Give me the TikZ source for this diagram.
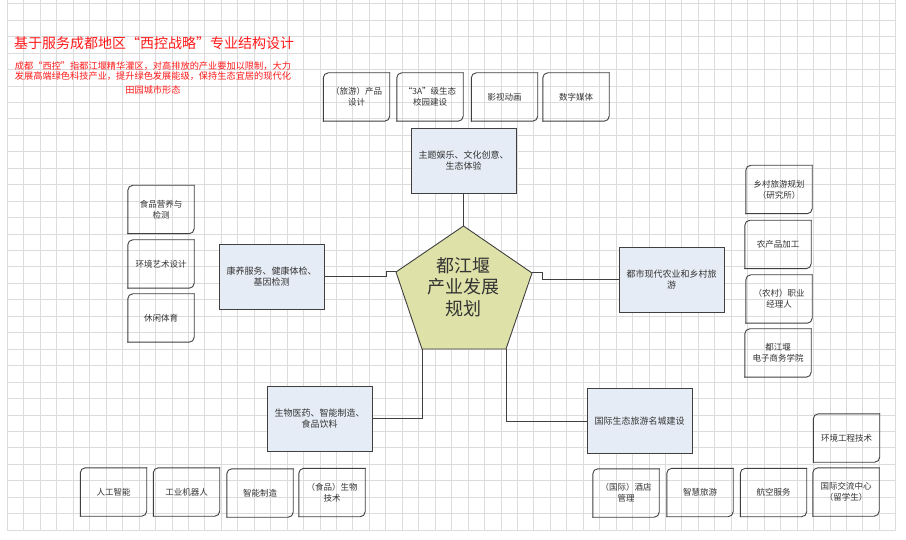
\documentclass[tikz,border=0pt]{standalone}
\usepackage{fontspec}
\setmainfont{Noto Sans CJK SC}
\usetikzlibrary{positioning}

\definecolor{gridgray}{HTML}{DCDCDC}
\definecolor{titlered}{HTML}{FF1A1A}
\definecolor{linegray}{HTML}{404040}
\definecolor{themefill}{HTML}{E6ECF5}
\definecolor{hubfill}{HTML}{DEE2A8}
\definecolor{textgray}{HTML}{333333}

\tikzset{
  theme/.style={draw=linegray, line width=0.9pt, fill=themefill, minimum width=105pt, minimum height=65pt,
    align=center, font=\fontsize{9}{10.5}\selectfont, text=textgray, inner sep=1pt},
  card/.style={minimum width=66pt, minimum height=48pt, align=center,
    font=\fontsize{8.5}{11.3}\selectfont, text=textgray, inner sep=1pt},
  cardedge/.style={draw=linegray, line width=0.9pt, rounded corners=5pt, line cap=rect},
  hubshape/.style={draw=linegray, line width=0.9pt, fill=hubfill, line join=miter},
  link/.style={draw=linegray, line width=1pt},
}

\begin{document}
\begin{tikzpicture}[x=1pt,y=-1pt]
    \useasboundingbox[fill=white] (0,0) rectangle (906,540);

    % Draw grid
    \foreach \i in {0,...,54} {
      \draw[gridgray, line width=0.6pt] ({7.3+16.45*\i},0) -- ({7.3+16.45*\i},530);
    }
    \foreach \j in {0,...,32} {
      \draw[gridgray, line width=0.6pt] (7.3,{3.6+16.45*\j}) -- (895.6,{3.6+16.45*\j});
    }

    % Title and note
    \node[text=titlered, font=\fontsize{14}{16}\selectfont, anchor=west] (title) at (10.5,42.7)
      {基于服务成都地区“西控战略”专业结构设计};
    \node[text=titlered, font=\fontsize{9.2}{10.2}\selectfont, align=center] (note) at (153,78)
      {成都“西控”指都江堰精华灌区，对高排放的产业要加以限制，大力\\
       发展高端绿色科技产业，提升绿色发展能级，保持生态宜居的现代化\\[3pt]
       田园城市形态};

    % Pentagon in the middle
    \coordinate (hubT) at (463.5,226);
    \coordinate (hubR) at (532,273);
    \coordinate (hubBR) at (506,349);
    \coordinate (hubBL) at (422,349);
    \coordinate (hubL) at (396,272);
    \draw[hubshape] (hubT) -- (hubR) -- (hubBR) -- (hubBL) -- (hubL) -- cycle;
    \node[font=\fontsize{18}{21.5}\selectfont, text=textgray, align=center] (hub) at (463.5,287)
      {都江堰\\产业发展\\规划};

    % Five theme boxes
    \node[theme] (themeT) at (463.5,160.5) {主题娱乐、文化创意、\\生态体验};
    \node[theme] (themeL) at (271.5,276.5) {康养服务、健康体检、\\基因检测};
    \node[theme] (themeR) at (671.5,279.5) {都市现代农业和乡村旅\\游};
    \node[theme] (themeBL) at (319.5,418.5) {生物医药、智能制造、\\食品饮料};
    \node[theme] (themeBR) at (639.5,421) {国际生态旅游名城建设};

    % Connect boxes to the pentagon
    \draw[link] (themeT) -- (hubT);
    \draw[link] (themeL.east) -| ([xshift=-10pt]hubL) -- (hubL);
    \draw[link] (hubR) -- ([xshift=10pt]hubR) |- (themeR.west);
    \draw[link] (themeBL.east) -| (hubBL);
    \draw[link] (themeBR.west) -| (hubBR);

    % Majors as cards
    \foreach \n/\x/\y/\txt in {
      tourProd/356.5/97/{（旅游）产品\\设计}, campus/430/97/{“3A”级生态\\校园建设},
      film/504.5/97/{影视动画}, media/576/97/{数字媒体},
      foodNutr/161/209.5/{食品营养与\\检测}, envArt/161/264/{环境艺术设计}, leisure/161/318/{休闲体育},
      ruralPlan/779/189.5/{乡村旅游规划\\（研究所）}, agriProc/778/244.5/{农产品加工},
      manager/779/299/{（农村）职业\\经理人}, ecommerce/778/353/{都江堰\\电子商务学院},
      ai/113.5/492/{人工智能}, robot/186.5/492/{工业机器人},
      smartMfg/260/493/{智能制造}, biotech/332/492.5/{（食品）生物\\技术},
      hotel/626/493/{（国际）酒店\\管理}, smartTour/700/492.5/{智慧旅游},
      aviation/773.5/492.5/{航空服务}, exchange/846/492/{国际交流中心\\（留学生）},
      envEng/846.5/438/{环境工程技术}} {
      \node[card] (\n) at (\x,\y) {\txt};
      \draw[cardedge] (\n.south west) -- (\n.north west) -- (\n.north east);
      \draw[cardedge] (\n.north east) -- (\n.south east) -- (\n.south west);
    }
\end{tikzpicture}
\end{document}
